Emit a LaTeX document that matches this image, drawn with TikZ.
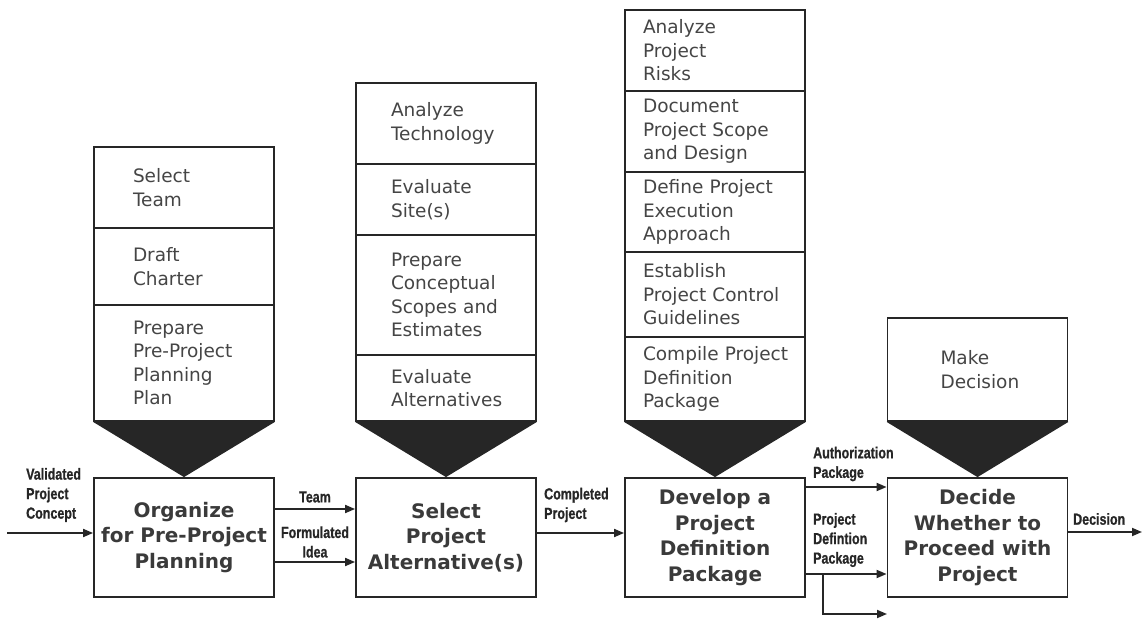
\documentclass[tikz,border=0pt]{standalone}
\usepackage{fontspec}
\setmainfont{DejaVu Sans}
\newfontfamily\labfont{Liberation Sans}[FakeStretch=0.78,FakeBold=0.8]
\usetikzlibrary{arrows.meta}
\definecolor{ink}{HTML}{262626}
\definecolor{txt}{HTML}{3A3A3A}
\definecolor{celltxt}{HTML}{454545}
\hyphenpenalty=10000
\exhyphenpenalty=10000

\tikzset{
  % one step of an activity stack; the argument is the left inset of its text
  cell/.style={draw=ink, line width=1.8pt, minimum width=180pt, inner xsep=0pt, inner ysep=0pt,
    text width=180pt-2*#1, align=left, text=celltxt, font=\fontsize{18.5}{23.5}\selectfont},
  mainbox/.style={draw=ink, line width=1.8pt, minimum width=180pt, minimum height=119pt,
    inner sep=0pt, align=center, text=txt, font=\fontsize{20}{25.5}\selectfont\bfseries},
  flow/.style={draw=ink, line width=1.8pt, -{Triangle[length=10pt,width=8pt]}},
  lab/.style={text=ink, font=\labfont\bfseries\fontsize{16}{19.5}\selectfont, inner sep=0pt},
  wedge/.style={fill=ink},
}

\begin{document}
\begin{tikzpicture}[x=1pt,y=-1pt]
\useasboundingbox (0,0) rectangle (1144,621);

% activity stacks
\node[cell=39, minimum height=81pt]  (s1a) at (184,187.5) {Select\\Team};
\node[cell=39, minimum height=77pt]  (s1b) at (184,266.5) {Draft\\Charter};
\node[cell=39, minimum height=116pt] (s1c) at (184,363)   {Prepare\\Pre-Project\\Planning\\Plan};

\node[cell=35, minimum height=81pt]  (s2a) at (446,123.5) {Analyze\\Technology};
\node[cell=35, minimum height=71pt]  (s2b) at (446,199.5) {Evaluate\\Site(s)};
\node[cell=35, minimum height=120pt] (s2c) at (446,295)   {Prepare\\Conceptual\\Scopes~and\\Estimates};
\node[cell=35, minimum height=66pt]  (s2d) at (446,388)   {Evaluate\\Alternatives};

\node[cell=18, minimum height=81pt]  (s3a) at (715,50.5)  {Analyze\\Project\\Risks};
\node[cell=18, minimum height=81pt]  (s3b) at (715,131.5) {Document\\Project~Scope\\and~Design};
\node[cell=18, minimum height=80pt]  (s3c) at (715,212)   {Define~Project\\Execution\\Approach};
\node[cell=18, minimum height=85pt]  (s3d) at (715,294.5) {Establish\\Project~Control\\Guidelines};
\node[cell=18, minimum height=84pt]  (s3e) at (715,379)   {Compile~Project\\Definition\\Package};

\node[cell=53, minimum height=103pt] (s4a) at (977.5,369.5) {Make\\Decision};

% main process boxes
\node[mainbox] (b1) at (184,537.5)   {Organize\\for Pre-Project\\Planning};
\node[mainbox] (b2) at (446,537.5)   {Select\\Project\\Alternative(s)};
\node[mainbox] (b3) at (715,537.5)   {Develop a\\Project\\Definition\\Package};
\node[mainbox] (b4) at (977.5,537.5) {Decide\\Whether to\\Proceed with\\Project};

% funnels from stacks into boxes
\fill[wedge] (s1c.south west) -- (s1c.south east) -- (b1.north) -- cycle;
\fill[wedge] (s2d.south west) -- (s2d.south east) -- (b2.north) -- cycle;
\fill[wedge] (s3e.south west) -- (s3e.south east) -- (b3.north) -- cycle;
\fill[wedge] (s4a.south west) -- (s4a.south east) -- (b4.north) -- cycle;

% flow levels
\coordinate (in)    at (7,533);
\coordinate (teamy) at (0,509);
\coordinate (ideay) at (0,562);
\coordinate (compy) at (0,533);
\coordinate (authy) at (0,487);
\coordinate (defy)  at (0,574);
\coordinate (br)    at (823,574);
\coordinate (brend) at (887,614);
\coordinate (out)   at (1142,532);

\draw[flow] (in) -- (in -| b1.west);
\draw[flow] (b1.east |- teamy) -- (b2.west |- teamy);
\draw[flow] (b1.east |- ideay) -- (b2.west |- ideay);
\draw[flow] (b2.east |- compy) -- (b3.west |- compy);
\draw[flow] (b3.east |- authy) -- (b4.west |- authy);
\draw[flow] (b3.east |- defy)  -- (b4.west |- defy);
\draw[flow] (br) |- (brend);
\draw[flow] (b4.east |- out) -- (out);

% flow labels
\node[lab, anchor=west, align=left] (lin)   at (26,495)  {Validated\\Project\\Concept};
\node[lab] (lteam) at (315,497) {Team};
\node[lab, align=center] (lidea) at (315,542) {Formulated\\Idea};
\node[lab, anchor=west, align=left] (lcomp) at (544,505) {Completed\\Project};
\node[lab, anchor=west, align=left] (lauth) at (813,464) {Authorization\\Package};
\node[lab, anchor=west, align=left] (ldef)  at (813,540) {Project\\Defintion\\Package};
\node[lab, anchor=west] (ldec) at (1073,519) {Decision};
\end{tikzpicture}
\end{document}
